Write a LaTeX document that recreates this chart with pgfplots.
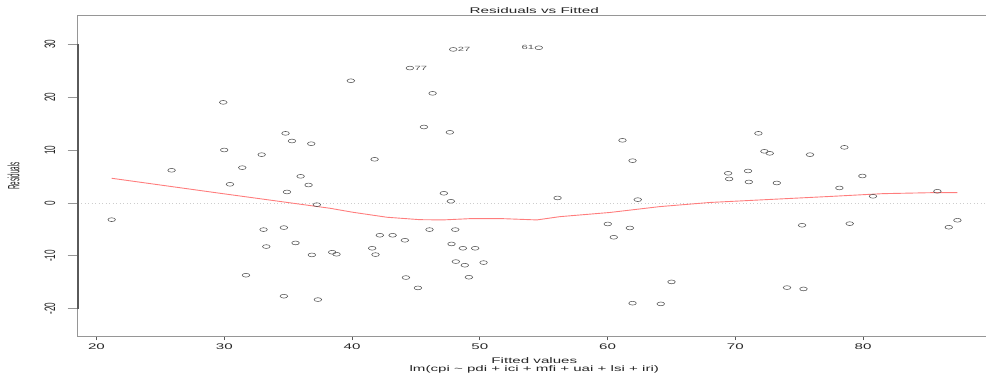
\documentclass[border=0pt]{standalone}
\usepackage{fontspec}
\setmainfont{Liberation Sans}
\usepackage{graphicx}
\usepackage{pgfplots}
\pgfplotsset{compat=1.18}
\definecolor{boxgray}{RGB}{150,150,150}
\definecolor{axdark}{RGB}{90,90,90}
\definecolor{ptcol}{RGB}{85,85,85}
\definecolor{loess}{RGB}{255,125,125}
\definecolor{zerocol}{RGB}{205,205,205}
\begin{document}
\begin{tikzpicture}[x=1bp,y=1bp]
\path[use as bounding box] (0,0) rectangle (986,376);
\clip (0,0) rectangle (986,376);
\begin{axis}[
  at={(77.7bp,39.3bp)}, anchor=south west,
  width=912.3bp, height=321.4bp, scale only axis,
  xmin=18.53, xmax=89.94, ymin=-25.3, ymax=35.5,
  axis line style={boxgray, line width=0.8bp},
  xtick={20,30,...,80}, ytick={-20,-10,...,30},
  xticklabels={}, yticklabels={},
  tick pos=left, tick align=outside,
  major tick length=10bp,
  xtick style={/pgfplots/major tick length=3.5bp, axdark, line width=0.8bp},
  ytick style={boxgray, line width=0.8bp},
  clip=false,
]
\addplot[zerocol, line width=0.7bp, dash pattern=on 1bp off 2.5bp] coordinates {(18.53,0) (89.94,0)};
\addplot[loess, line width=0.9bp] coordinates {
(21.19,4.67) (29.68,1.83) (38.27,-1.0) (40.07,-1.76) (42.73,-2.70) (45.31,-3.16)
(47.11,-3.21) (49.22,-2.97) (51.81,-2.97) (54.47,-3.21) (56.27,-2.59) (60.18,-1.80)
(64.09,-0.69) (68.0,0.09) (71.92,0.57) (77.63,1.26) (81.54,1.76) (85.45,1.95) (87.39,1.95)};
\addplot[only marks, mark=o, mark size=1.9bp, mark options={xscale=2, draw=ptcol, line width=0.55bp}] coordinates {
(21.19,-3.16) (25.88,6.18) (29.92,19.03) (30.00,10.02) (30.45,3.53) (31.41,6.68)
(32.93,9.14) (34.80,13.17) (35.30,11.72) (36.81,11.21) (35.98,5.04) (36.60,3.40)
(34.91,2.08) (37.25,-0.32) (33.08,-5.04) (34.67,-4.66) (33.29,-8.25) (35.58,-7.56)
(36.86,-9.83) (31.70,-13.67) (34.67,-17.64) (37.33,-18.28) (38.45,-9.32) (38.79,-9.70)
(39.91,23.12) (44.53,25.52) (47.92,29.05) (54.62,29.36) (46.31,20.74) (45.63,14.37)
(47.66,13.36) (41.77,8.26) (47.19,1.83) (47.74,0.32) (56.09,0.95) (61.17,11.85)
(61.96,8.00) (62.37,0.63) (60.02,-3.97) (61.75,-4.73) (60.49,-6.49) (61.96,-18.96)
(64.17,-19.09) (46.07,-5.04) (48.08,-5.04) (42.18,-6.11) (43.18,-6.11) (44.14,-7.06)
(41.58,-8.57) (41.84,-9.77) (47.79,-7.75) (48.68,-8.57) (49.64,-8.57) (48.13,-11.09)
(48.83,-11.78) (50.30,-11.28) (44.22,-14.11) (49.15,-14.05) (45.16,-16.07) (65.01,-14.93)
(71.81,13.17) (72.28,9.77) (72.70,9.39) (69.44,5.61) (69.52,4.54) (71.00,6.05)
(71.06,3.97) (73.25,3.78) (75.85,9.14) (78.54,10.52) (78.15,2.84) (79.95,5.10)
(80.78,1.26) (85.82,2.21) (75.23,-4.22) (78.96,-3.91) (87.39,-3.27) (86.71,-4.59)
(74.05,-16.01) (75.34,-16.26)};
\draw[axdark, line width=1.8bp] (axis cs:18.53,-20) -- (axis cs:18.53,30);
\node[anchor=west, inner sep=0, xshift=4.5bp, text=ptcol, font=\fontsize{6.1}{7}\selectfont] at (axis cs:44.53,25.52) {\scalebox{1.85}[1]{77}};
\node[anchor=west, inner sep=0, xshift=4.5bp, text=ptcol, font=\fontsize{6.1}{7}\selectfont] at (axis cs:47.92,29.05) {\scalebox{1.85}[1]{27}};
\node[anchor=east, inner sep=0, xshift=-4.5bp, text=ptcol, font=\fontsize{6.1}{7}\selectfont] at (axis cs:54.62,29.36) {\scalebox{1.85}[1]{61}};
\end{axis}
\foreach \t in {20,30,...,80}
  \node[anchor=base, inner sep=0, text=black!85, font=\fontsize{8.2}{9}\selectfont] at ({96.5+12.775*(\t-20)},27) {\scalebox{1.85}[1]{\t}};
\foreach \t in {-20,-10,...,30}
  \node[rotate=90, anchor=base, inner sep=0, text=black!85, font=\fontsize{8.2}{9}\selectfont] at (55,{173+5.2862*\t}) {\scalebox{1}[1.85]{\t}};
\node[anchor=base, inner sep=0, text=black!85, font=\fontsize{8.3}{9}\selectfont] at (534.3,362.7) {\scalebox{1.85}[1]{Residuals vs Fitted}};
\node[anchor=base, inner sep=0, text=black!85, font=\fontsize{8.2}{9}\selectfont] at (534.3,12.5) {\scalebox{1.85}[1]{Fitted values}};
\node[anchor=base, inner sep=0, text=black!85, font=\fontsize{8.2}{9}\selectfont] at (534.3,5) {\scalebox{1.85}[1]{lm(cpi \textasciitilde\ pdi + ici + mfi + uai + lsi + iri)}};
\node[rotate=90, anchor=base, inner sep=0, text=black!85, font=\fontsize{6.3}{7}\selectfont] at (19.3,200) {\scalebox{1}[2.6]{Residuals}};
\end{tikzpicture}
\end{document}
